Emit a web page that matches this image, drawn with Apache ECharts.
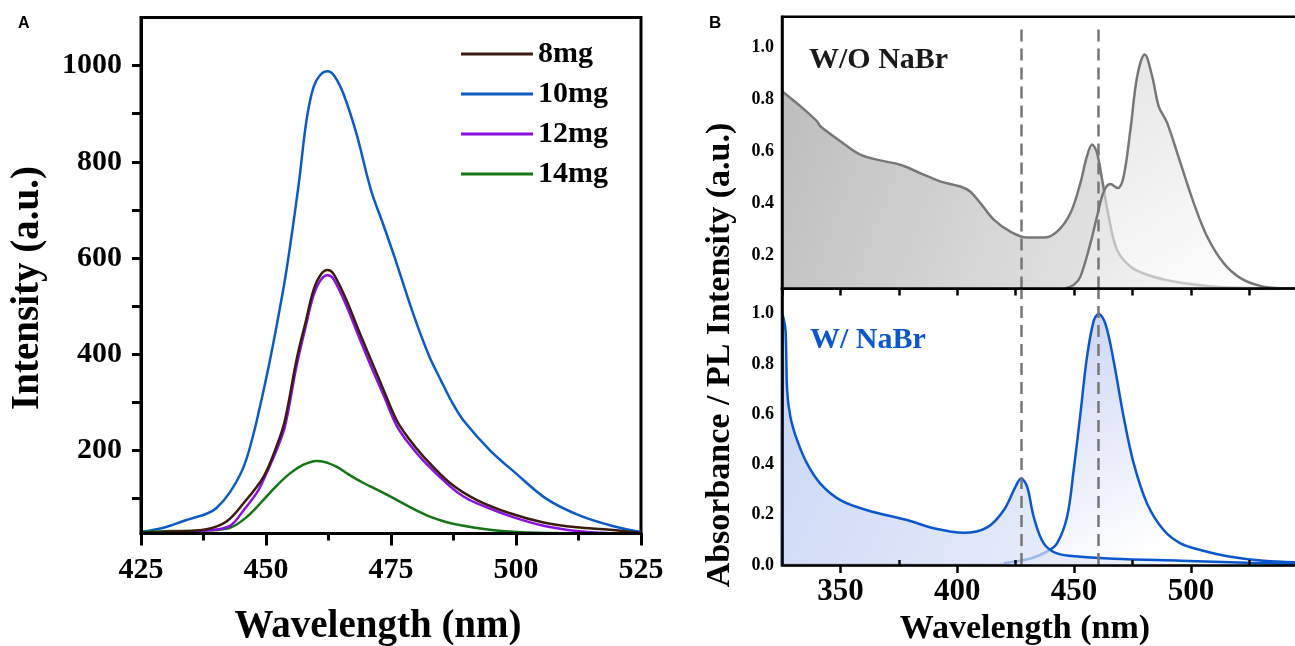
<!DOCTYPE html>
<html><head><meta charset="utf-8">
<script src="https://cdn.jsdelivr.net/npm/echarts@6/dist/echarts.min.js"></script>
<style>html,body{margin:0;padding:0;background:#fff}#c{width:1295px;height:646px}</style>
</head><body><div id="c"></div>
<script>
// ---------- Panel A data: PL intensity vs wavelength ----------
const legendNames = ['8mg', '10mg', '12mg', '14mg'];
const pl10mg = [[425,30],[429.5,39],[433.8,54],[438.1,68],[440.1,80],[442.8,113],[445.5,165],[447.5,234],[449.2,310],[450.8,388],[452.5,480],[454.1,575],[456.5,750],[458.1,886],[459.5,955],[460.8,980],[462.3,988],[463.7,978],[465.5,941],[468.1,858],[471,741],[473.5,668],[475.7,602],[478.3,519],[480.5,453],[482.8,392],[485,345],[487.2,300],[489.5,262],[494.8,200],[500.1,151],[506.1,99],[512.8,64],[519.5,42],[525,30]];
const pl8mg = [[425,28],[431,31],[438.1,36],[442.1,52],[445.5,90],[449.5,145],[452.1,208],[453.8,263],[456.1,388],[458,470],[459.5,533],[461,566],[462.3,575],[463.5,567],[466.1,512],[468.5,450],[471,388],[473.5,326],[476.1,263],[478.5,225],[481.5,187],[486.8,132],[492.1,97],[498.8,69],[505.5,50],[512.1,40],[518.8,35],[525,28]];
const pl12mg = [[425,27],[431,28],[438.1,33],[442.8,43],[445.5,75],[448.3,114],[450,150],[452.1,200],[453.8,250],[456.1,375],[458,460],[459.5,522],[461,555],[462.3,564],[463.5,556],[466.1,500],[468.5,438],[471,375],[473.5,315],[476.1,252],[478.5,215],[481.5,178],[486.8,125],[489.5,104],[492.1,90],[498.8,63],[505.5,43],[512.1,32],[516.1,29],[520,27],[525,27]];
const pl14mg = [[425,30],[431,32],[438.1,33.5],[442.8,39],[446,60],[449.5,97],[452,125],[454.8,152],[457.5,170],[460.1,178],[462,175],[464.1,166],[466.5,150],[469.5,132],[472.8,115],[476.1,97],[479.5,78],[482.8,62],[486,51],[489.5,43],[496.1,33],[502.8,29],[510,27.5],[525,27]];

// ---------- Panel B data ----------
const absNoNaBr = [[325,0.832],[332.9,0.774],[340,0.716],[341.4,0.697],[350,0.639],[358.5,0.587],[367,0.565],[375.6,0.548],[384.1,0.516],[392.7,0.484],[401.3,0.464],[405.5,0.445],[409.9,0.400],[415.6,0.336],[422.7,0.290],[429.9,0.267],[437,0.267],[442.7,0.290],[448.4,0.361],[452.7,0.478],[455.5,0.581],[457.7,0.626],[459.8,0.594],[462,0.490],[464.8,0.348],[468.4,0.219],[474.1,0.155],[481.2,0.123],[492.6,0.097],[506.9,0.080],[520,0.073],[550,0.070]];
const plNoNaBr = [[446.3,0.07],[450,0.085],[452.7,0.116],[457,0.245],[459.8,0.348],[462.7,0.445],[465.5,0.474],[468.7,0.458],[471.2,0.503],[474.1,0.684],[477,0.890],[480.2,0.974],[483.4,0.890],[486.2,0.774],[489.8,0.710],[495.5,0.555],[501.2,0.400],[506.9,0.271],[514,0.168],[521.2,0.110],[529.7,0.080],[538.3,0.071],[550,0.070]];
const absNaBr = [[325,0],[325.2,1.0],[326.5,0.933],[327.2,0.694],[328.6,0.589],[331.5,0.496],[335.7,0.404],[341.4,0.324],[350,0.258],[361.4,0.218],[378.5,0.179],[389.9,0.146],[402.7,0.128],[412.8,0.150],[419.9,0.218],[424.9,0.311],[427.3,0.344],[429.9,0.311],[432.7,0.192],[437,0.086],[442.7,0.046],[452.7,0.033],[466.9,0.025],[495.5,0.017],[524,0.009],[550,0.003]];
const plNaBr = [[419.9,0.007],[431.3,0.026],[438.4,0.053],[442.7,0.086],[447,0.192],[449.8,0.377],[452.7,0.602],[455.5,0.827],[458.4,0.972],[460.5,0.999],[463.4,0.959],[466.9,0.813],[471.2,0.589],[475.5,0.404],[481.2,0.245],[488.3,0.139],[495.5,0.086],[504,0.060],[516.9,0.033],[531.1,0.017],[550,0.010]];
const markerWavelengths = [427.5, 460.5];

// ---------- Tick labels ----------
const aYLabels = [200, 400, 600, 800, 1000];
const aYTicks = [100, 200, 300, 400, 500, 600, 700, 800, 900, 1000];
const bTopYLabels = [0.2, 0.4, 0.6, 0.8, 1.0];
const bBotYLabels = [0.0, 0.2, 0.4, 0.6, 0.8, 1.0];
const bXLabels = [350, 400, 450, 500];
const bXMajorTicks = [350, 400, 450, 500, 550];
const bXMinorTicks = [375, 425, 475, 525];

const SERIF = "'Times New Roman','Liberation Serif',serif";
const SANS = "'Liberation Sans',Arial,sans-serif";
const chart = echarts.init(document.getElementById('c'), null, {renderer: 'canvas'});

function lineS(name, data, color, xi, yi, z, area) {
  const s = {name, type: 'line', data, xAxisIndex: xi, yAxisIndex: yi, showSymbol: false,
    smooth: 0.35, z: z, lineStyle: {color, width: 2.5}, itemStyle: {color}};
  if (area) s.areaStyle = area;
  return s;
}
const grad = (x2, y2, c0, c1) => ({type: 'linear', x: 0, y: 0, x2, y2, colorStops: [{offset: 0, color: c0}, {offset: 1, color: c1}]});
const axisLineBlk = w => ({show: true, onZero: false, lineStyle: {color: '#000', width: w}});
const lblA = {fontFamily: SERIF, fontWeight: 'bold', color: '#000'};

const dashSeries = (xi, yi, y0, y1) => ({type: 'line', xAxisIndex: xi, yAxisIndex: yi, data: [], z: 20, silent: true,
  markLine: {silent: true, symbol: 'none', label: {show: false},
    lineStyle: {type: [12, 7], color: '#777', width: 2.5},
    data: markerWavelengths.map(v => [{coord: [v, y0]}, {coord: [v, y1]}])}});

const gridBase = {show: true, borderColor: '#000', backgroundColor: 'transparent', containLabel: false, outerBoundsMode: 'none'};
const option = {
  animation: false,
  backgroundColor: '#fff',
  grid: [
    Object.assign({left: 141, top: 17.5, width: 500, height: 516, borderWidth: 3}, gridBase),
    Object.assign({left: 782, top: 16.7, width: 525.8, height: 271.8, borderWidth: 2.5}, gridBase),
    Object.assign({left: 782, top: 288.5, width: 525.8, height: 276.5, borderWidth: 2.5}, gridBase)
  ],
  xAxis: [
    {gridIndex: 0, type: 'value', min: 425, max: 525, interval: 25, z: 5,
      axisLine: axisLineBlk(3), axisTick: {show: true, inside: false, length: 12, lineStyle: {width: 3, color: '#000'}},
      minorTick: {show: true, splitNumber: 2, length: 7, lineStyle: {width: 3, color: '#000'}},
      axisLabel: Object.assign({fontSize: 30, margin: 22, formatter: v => String(v)}, lblA), splitLine: {show: false}, minorSplitLine: {show: false}},
    {gridIndex: 1, type: 'value', min: 325, max: 550, interval: 25, z: 5,
      axisLine: axisLineBlk(2.5), axisTick: {show: true, inside: false, length: 7, lineStyle: {width: 2.5, color: '#000'}},
      axisLabel: {show: false}, splitLine: {show: false}},
    {gridIndex: 2, type: 'value', min: 325, max: 550, z: 5,
      axisLine: axisLineBlk(2.5), axisTick: {show: true, inside: false, length: 8, customValues: bXMajorTicks, lineStyle: {width: 2.5, color: '#000'}},
      axisLabel: Object.assign({fontSize: 31, margin: 11, customValues: bXLabels, formatter: v => String(v)}, lblA), splitLine: {show: false}},
    {gridIndex: 2, type: 'value', min: 325, max: 550, z: 5,
      axisLine: {show: false}, axisTick: {show: true, inside: false, length: 5, customValues: bXMinorTicks, lineStyle: {width: 2.5, color: '#000'}},
      axisLabel: {show: false}, splitLine: {show: false}}
  ],
  yAxis: [
    {gridIndex: 0, type: 'value', min: 27, max: 1100, z: 5,
      axisLine: axisLineBlk(3), axisTick: {show: true, inside: false, length: 9, customValues: aYTicks, lineStyle: {width: 3, color: '#000'}},
      axisLabel: Object.assign({fontSize: 30, margin: 19, customValues: aYLabels, formatter: v => String(v)}, lblA), splitLine: {show: false}},
    {gridIndex: 1, type: 'value', min: 0.07, max: 1.12, z: 5,
      axisLine: axisLineBlk(2.5), axisTick: {show: false},
      axisLabel: Object.assign({fontSize: 18, margin: 8, customValues: bTopYLabels, formatter: v => Number(v).toFixed(1)}, lblA), splitLine: {show: false}},
    {gridIndex: 2, type: 'value', min: 0, max: 1.1, z: 5,
      axisLine: axisLineBlk(2.5), axisTick: {show: false},
      axisLabel: Object.assign({fontSize: 18, margin: 8, customValues: bBotYLabels, formatter: v => Number(v).toFixed(1)}, lblA), splitLine: {show: false}}
  ],
  legend: {data: legendNames, orient: 'vertical', left: 456, top: 34, itemWidth: 72, itemHeight: 3, icon: 'rect',
    itemGap: 10, textStyle: {fontSize: 30, fontWeight: 'bold', fontFamily: SERIF, color: '#000'}},
  series: [
    lineS('10mg', pl10mg, '#0a5bc4', 0, 0, 2),
    lineS('14mg', pl14mg, '#137513', 0, 0, 2),
    lineS('12mg', pl12mg, '#8a10e0', 0, 0, 3),
    lineS('8mg', pl8mg, '#3b1a10', 0, 0, 4),
    lineS('absNo', absNoNaBr, '#777777', 1, 1, 2, {color: grad(1, 1, '#bdbdbd', '#f7f7f7'), opacity: 1}),
    lineS('plNo', plNoNaBr, '#777777', 1, 1, 3, {color: grad(0.6, 1, '#d2d2d2', '#fafafa'), opacity: 0.62}),
    lineS('plYes', plNaBr, '#0a56cc', 2, 2, 2, {color: grad(0.4, 1, '#c6d0f2', '#ffffff'), opacity: 1}),
    lineS('absYes', absNaBr, '#0a56cc', 3, 2, 3, {color: grad(1, 1, '#b3c4f0', '#f6f8fd'), opacity: 0.7}),
    dashSeries(1, 1, 0.07, 1.095),
    dashSeries(2, 2, 0, 1.1)
  ],
  graphic: [
    {type: 'text', left: 18, top: 16, z: 100, style: {text: 'A', font: 'bold 16px ' + SANS, fill: '#000'}},
    {type: 'text', left: 709, top: 15, z: 100, style: {text: 'B', font: 'bold 17px ' + SANS, fill: '#000'}},
    {type: 'text', x: 27.5, y: 288, rotation: Math.PI / 2, z: 100,
      style: {text: 'Intensity (a.u.)', font: 'bold 39px ' + SERIF, fill: '#000', align: 'center', verticalAlign: 'middle'}},
    {type: 'text', x: 378, y: 627, z: 100,
      style: {text: 'Wavelength (nm)', font: 'bold 39px ' + SERIF, fill: '#000', align: 'center', verticalAlign: 'middle'}},
    {type: 'text', x: 720, y: 355, rotation: Math.PI / 2, z: 100,
      style: {text: 'Absorbance / PL Intensity (a.u.)', font: 'bold 34px ' + SERIF, fill: '#000', align: 'center', verticalAlign: 'middle'}},
    {type: 'text', x: 1025, y: 629, z: 100,
      style: {text: 'Wavelength (nm)', font: 'bold 34px ' + SERIF, fill: '#000', align: 'center', verticalAlign: 'middle'}},
    {type: 'text', x: 809, y: 60, z: 100,
      style: {text: 'W/O NaBr', font: 'bold 30px ' + SERIF, fill: '#1a1a1a', align: 'left', verticalAlign: 'middle'}},
    {type: 'text', x: 810, y: 340, z: 100,
      style: {text: 'W/ NaBr', font: 'bold 30px ' + SERIF, fill: '#0a56cc', align: 'left', verticalAlign: 'middle'}}
  ]
};
chart.setOption(option);
</script>
</body></html>
